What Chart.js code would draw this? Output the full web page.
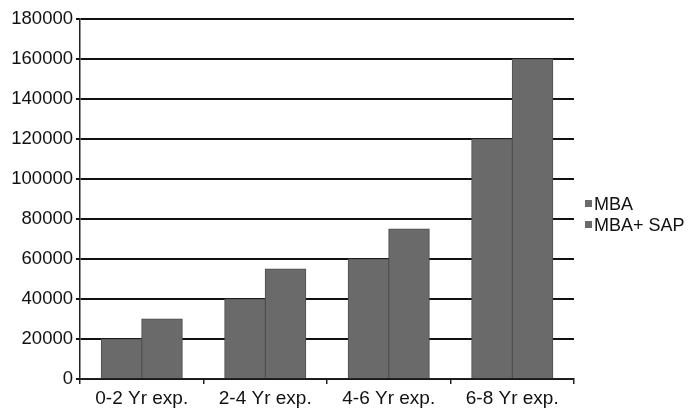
<!DOCTYPE html>
<html>
<head>
<meta charset="utf-8">
<script src="https://cdn.jsdelivr.net/npm/chart.js@4/dist/chart.umd.min.js"></script>
<style>
  html, body { margin: 0; padding: 0; background: #fff; }
  #wrap { position: relative; width: 696px; height: 408px; }
  #legend { position: absolute; left: 585px; top: 194px; font-family: "Liberation Sans", Arial, sans-serif; font-size: 18px; color: #111; line-height: 21px; }
  #legend div { white-space: nowrap; }
  #legend span { display: inline-block; width: 7px; height: 7px; background: #6a6a6a; margin-right: 2px; vertical-align: 3px; }
</style>
</head>
<body>
<div id="wrap">
  <canvas id="salaryChart" width="696" height="408"></canvas>
  <div id="legend"></div>
</div>
<script>
const categories = ['0-2 Yr exp.', '2-4 Yr exp.', '4-6 Yr exp.', '6-8 Yr exp.'];
const mbaValues = [20000, 40000, 60000, 120000];
const mbaSapValues = [30000, 55000, 75000, 160000];
const seriesNames = ['MBA', 'MBA+ SAP'];

const barColor = '#6a6a6a';
const font = "'Liberation Sans', Arial, sans-serif";

// legend as plain html, chart.js one is hard to place here
document.getElementById('legend').innerHTML = seriesNames
    .map(name => '<div><span></span>' + name + '</div>')
    .join('');

const ctx = document.getElementById('salaryChart').getContext('2d');
const salaryChart = new Chart(ctx, {
    type: 'bar',
    data: {
        labels: categories,
        datasets: [
            { label: seriesNames[0], data: mbaValues, backgroundColor: barColor, borderColor: '#4e4e4e', borderWidth: 1 },
            { label: seriesNames[1], data: mbaSapValues, backgroundColor: barColor, borderColor: '#4e4e4e', borderWidth: 1 }
        ]
    },
    options: {
        responsive: false,
        animation: false,
        layout: { padding: { top: 19, right: 122, left: 0, bottom: 0 } },
        datasets: { bar: { categoryPercentage: 0.656, barPercentage: 1, inflateAmount: 0.5 } },
        plugins: {
            legend: { display: false },
            tooltip: { enabled: false }
        },
        scales: {
            x: {
                grid: { drawOnChartArea: false, drawTicks: true, tickLength: 5, color: '#222', lineWidth: 1.5 },
                border: { color: '#222', width: 1.5 },
                ticks: { color: '#111', font: { family: font, size: 19 }, padding: 3, maxRotation: 0 },
                afterFit: function(scale) { scale.height = 29; }
            },
            y: {
                min: 0,
                max: 180000,
                grid: { color: '#111', lineWidth: 2, tickLength: 4 },
                border: { color: '#222', width: 1.5 },
                ticks: {
                    stepSize: 20000, color: '#111', font: { family: font, size: 18.5 }, padding: 3,
                    callback: function(value) { return String(value); }
                },
                afterFit: function(scale) { scale.width = 80; }
            }
        }
    }
});
</script>
</body>
</html>
